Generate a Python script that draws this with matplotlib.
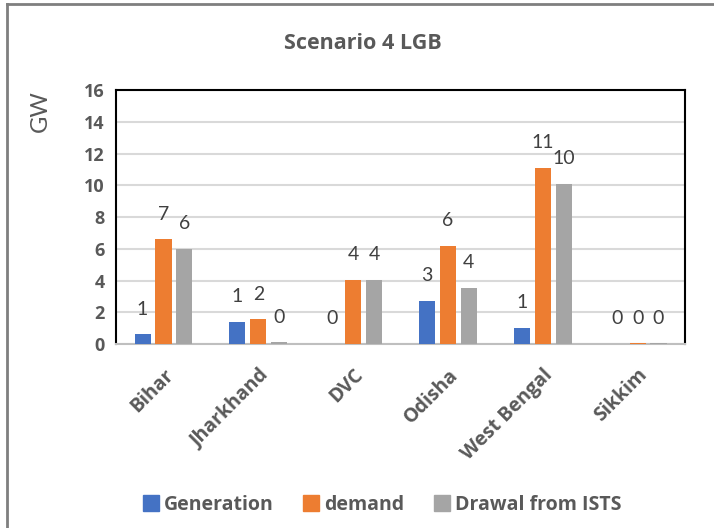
import matplotlib
matplotlib.use("Agg")
import matplotlib.pyplot as plt
from matplotlib.lines import Line2D
import numpy as np

states = ["Bihar", "Jharkhand", "DVC", "Odisha", "West Bengal", "Sikkim"]
generation = [0.6, 1.4, 0.0, 2.7, 1.0, 0.0]
demand = [6.6, 1.55, 4.05, 6.2, 11.1, 0.05]
drawal = [6.0, 0.1, 4.05, 3.55, 10.1, 0.05]
series_names = ["Generation", "demand", "Drawal from ISTS"]
y_ticks = [0, 2, 4, 6, 8, 10, 12, 14, 16]

colors = ["#4472C4", "#ED7D31", "#A5A5A5"]
text_gray = "#595959"
label_gray = "#404040"
font = ["Lato", "DejaVu Sans"]
bold_font = ["Open Sans", "DejaVu Sans"]

plt.rcParams["font.family"] = font

fig = plt.figure(figsize=(7.14, 5.28), dpi=100)
ax = fig.add_axes([0.1625, 0.3485, 0.7969, 0.481])

x = np.arange(len(states))
width = 0.17
offsets = [-0.22, 0.0, 0.22]

for vals, off, col in zip([generation, demand, drawal], offsets, colors):
    bars = ax.bar(x + off, vals, width, color=col, zorder=3)
    ax.bar_label(bars, labels=[f"{v:.0f}" for v in vals], padding=12,
                 fontsize=14, color=label_gray, zorder=4)

ax.set_xlim(-0.5, len(states) - 0.5)
ax.set_ylim(0, 16)
ax.set_yticks(y_ticks)
ax.set_yticklabels([str(t) for t in y_ticks], fontsize=13, fontweight="bold",
                   color=text_gray, family=bold_font)
ax.set_xticks(x)
ax.set_xticklabels(states, rotation=45, ha="right", rotation_mode="anchor",
                   fontsize=14, fontweight="bold", color=text_gray,
                   family=bold_font)
ax.tick_params(axis="both", length=0, pad=8)
ax.tick_params(axis="x", pad=15)

ax.yaxis.grid(True, color="#D9D9D9", linewidth=1.5, zorder=0)
ax.set_axisbelow(True)
for side in ["left", "top", "right"]:
    ax.spines[side].set_color("black")
    ax.spines[side].set_linewidth(1.5)
ax.spines["bottom"].set_color("#BFBFBF")
ax.spines["bottom"].set_linewidth(1.5)

fig.text(0.508, 0.917, "Scenario 4 LGB", ha="center", va="center",
         fontsize=15.5, fontweight="bold", color=text_gray, family=bold_font)
fig.text(0.056, 0.79, "GW", rotation=90, ha="center", va="center",
         fontsize=17, color=text_gray)

handles = [Line2D([0], [0], marker="s", linestyle="none", markersize=11,
                  markerfacecolor=c, markeredgecolor=c) for c in colors]
fig.legend(handles, series_names, loc="center", bbox_to_anchor=(0.534, 0.043),
           ncol=3, frameon=False, handletextpad=0.2, columnspacing=1.4,
           handlelength=1.0,
           prop={"family": bold_font, "weight": "bold", "size": 14},
           labelcolor=text_gray)

# outer chart border (left and top edges)
fig.add_artist(Line2D([0.0098, 0.0098], [0, 0.9924], transform=fig.transFigure,
                      color="#7F7F7F", linewidth=2))
fig.add_artist(Line2D([0.0098, 1.0], [0.9924, 0.9924], transform=fig.transFigure,
                      color="#7F7F7F", linewidth=2))

fig.savefig("out.png", dpi=100, facecolor="white")
